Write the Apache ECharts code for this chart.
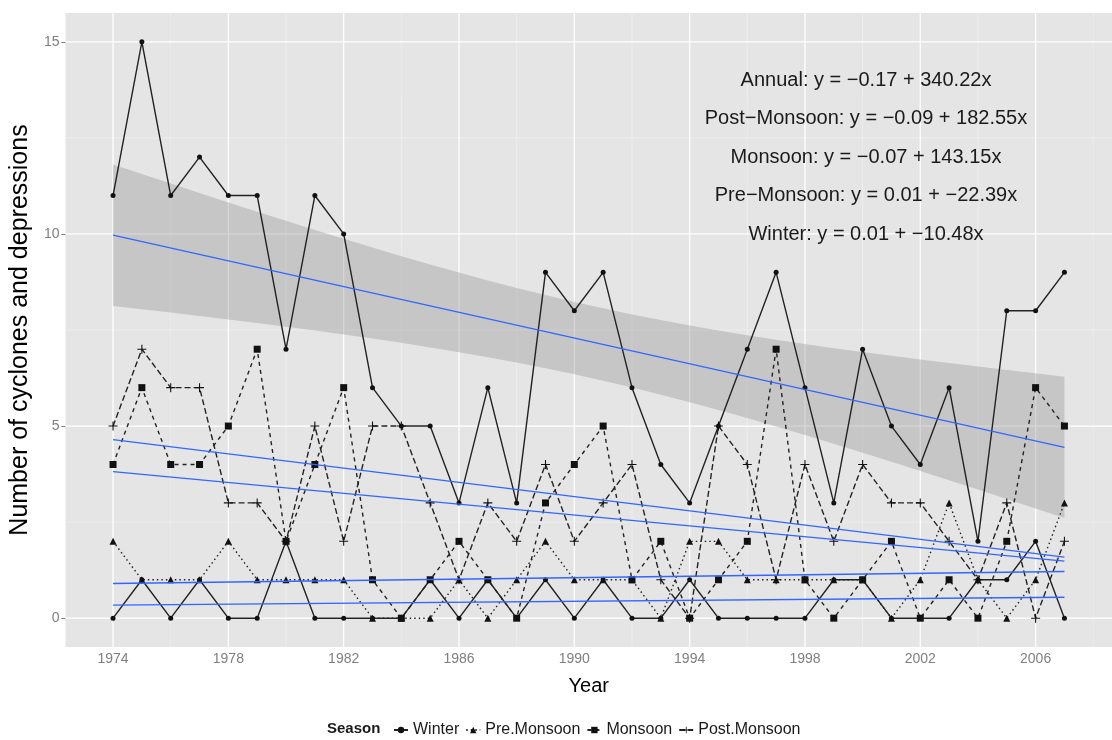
<!DOCTYPE html>
<html>
<head>
<meta charset="utf-8">
<title>Cyclones and depressions</title>
<script src="https://cdn.jsdelivr.net/npm/echarts@6/dist/echarts.min.js"></script>
<style>
    html, body { margin: 0; padding: 0; background: #fff; }
    #chart { width: 1112px; height: 740px; }
</style>
</head>
<body>
<div id="chart"></div>
<script>
var years = [1974, 1975, 1976, 1977, 1978, 1979, 1980, 1981, 1982, 1983, 1984, 1985, 1986, 1987, 1988, 1989, 1990,
    1991, 1992, 1993, 1994, 1995, 1996, 1997, 1998, 1999, 2000, 2001, 2002, 2003, 2004, 2005, 2006, 2007]
var annual = [11, 15, 11, 12, 11, 11, 7, 11, 10, 6, 5, 5, 3, 6, 3, 9, 8, 9, 6, 4, 3, 5, 7, 9, 6, 3, 7, 5, 4, 6, 2, 8, 8, 9]
var winter = [0, 1, 0, 1, 0, 0, 2, 0, 0, 0, 0, 1, 0, 1, 0, 1, 0, 1, 0, 0, 1, 0, 0, 0, 0, 1, 1, 0, 0, 0, 1, 1, 2, 0]
var preMonsoon = [2, 1, 1, 1, 2, 1, 1, 1, 1, 0, 0, 0, 1, 0, 1, 2, 1, 1, 1, 0, 2, 2, 1, 1, 1, 1, 1, 0, 1, 3, 1, 0, 1, 3]
var monsoon = [4, 6, 4, 4, 5, 7, 2, 4, 6, 1, 0, 1, 2, 1, 0, 3, 4, 5, 1, 2, 0, 1, 2, 7, 1, 0, 1, 2, 0, 1, 0, 2, 6, 5]
var postMonsoon = [5, 7, 6, 6, 3, 3, 2, 5, 2, 5, 5, 3, 1, 3, 2, 4, 2, 3, 4, 1, 0, 5, 4, 1, 4, 2, 4, 3, 3, 2, 1, 3, 0, 2]

var yTicks = [0, 5, 10, 15]
var yMinor = [2.5, 7.5, 12.5]
var xTicks = [1974, 1978, 1982, 1986, 1990, 1994, 1998, 2002, 2006]
var xMinor = [1976, 1980, 1984, 1988, 1992, 1996, 2000, 2004, 2008]

var equations = [
    'Annual: y = \u22120.17 + 340.22x',
    'Post\u2212Monsoon: y = \u22120.09 + 182.55x',
    'Monsoon: y = \u22120.07 + 143.15x',
    'Pre\u2212Monsoon: y = 0.01 + \u221222.39x',
    'Winter: y = 0.01 + \u221210.48x'
]

;(function () {
    var FONT = '"Liberation Sans", Arial, sans-serif'
    var chart = echarts.init(document.getElementById('chart'))

    function pairs(ys) { // [year, value]
        return years.map(function (yr, i) { return [yr, ys[i]] })
    }

    function linFit(ys) { // least squares, like geom_smooth(method = lm)
        var n = ys.length, xbar = 0, ybar = 0, sxx = 0, sxy = 0, sse = 0
        years.forEach(function (x, i) { xbar += x / n; ybar += ys[i] / n })
        years.forEach(function (x, i) {
            sxx += (x - xbar) * (x - xbar)
            sxy += (x - xbar) * (ys[i] - ybar)
        })
        var b = sxy / sxx, a = ybar - b * xbar
        years.forEach(function (x, i) { var r = ys[i] - a - b * x; sse += r * r })
        return { a: a, b: b, s: Math.sqrt(sse / (n - 2)), n: n, xbar: xbar, sxx: sxx }
    }

    function fitLine(ys) {
        var f = linFit(ys), x0 = years[0], x1 = years[years.length - 1]
        return {
            type: 'line',
            data: [[x0, f.a + f.b * x0], [x1, f.a + f.b * x1]],
            showSymbol: false,
            silent: true,
            z: 5,
            lineStyle: { color: '#3366ff', width: 1.3 }
        }
    }

    // 95% confidence band for the annual trend
    var fa = linFit(annual), tq = 2.037
    var bandData = years.map(function (x) {
        var yh = fa.a + fa.b * x
        var se = fa.s * Math.sqrt(1 / fa.n + (x - fa.xbar) * (x - fa.xbar) / fa.sxx)
        return [x, yh - tq * se, yh + tq * se]
    })

    function gridSeries(values, horizontal, major) {
        return {
            type: 'custom',
            silent: true,
            z: 1,
            data: values.map(function (v) { return horizontal ? [1990, v] : [v, 7] }),
            renderItem: function (params, api) {
                var cs = params.coordSys
                var p = api.coord([api.value(0), api.value(1)])
                var shape = horizontal ?
                    { x1: cs.x, y1: p[1], x2: cs.x + cs.width, y2: p[1] } :
                    { x1: p[0], y1: cs.y, x2: p[0], y2: cs.y + cs.height }
                return {
                    type: 'line',
                    shape: shape,
                    style: { stroke: major ? '#ffffff' : '#f2f2f2', lineWidth: major ? 1.3 : 0.6 }
                }
            }
        }
    }

    function seasonSeries(name, ys, dash, symbol, size) {
        return {
            name: name,
            type: 'line',
            data: pairs(ys),
            symbol: symbol,
            symbolSize: size,
            z: 3,
            itemStyle: { color: '#111' },
            lineStyle: { color: '#222', width: 1.4, type: dash }
        }
    }

    var plusPath = 'path://M4.4,0H5.6V4.4H10V5.6H5.6V10H4.4V5.6H0V4.4H4.4Z'

    var option = {
        animation: false,
        grid: {
            left: 63, right: 0, top: 13, bottom: 93,
            show: true, backgroundColor: '#e5e5e5', borderWidth: 0
        },
        legend: {
            data: ['Winter', 'Pre.Monsoon', 'Monsoon', 'Post.Monsoon'],
            left: 388, top: 717,
            itemWidth: 14, itemHeight: 8, itemGap: 6,
            textStyle: { fontFamily: FONT, fontSize: 16, color: '#1a1a1a' }
        },
        xAxis: {
            type: 'value',
            min: 1972.35, max: 2008.65,
            name: 'Year', nameLocation: 'middle', nameGap: 29,
            nameTextStyle: { fontFamily: FONT, fontSize: 20, color: '#000' },
            axisLine: { show: false },
            axisTick: { show: true, length: 4, customValues: xTicks, lineStyle: { color: '#7f7f7f' } },
            axisLabel: {
                customValues: xTicks, margin: 5, fontFamily: FONT, fontSize: 14, color: '#7f7f7f',
                formatter: function (v) { return String(v) }
            },
            splitLine: { show: false }
        },
        yAxis: {
            type: 'value',
            min: -0.75, max: 15.75,
            name: 'Number of cyclones and depressions', nameLocation: 'middle', nameGap: 28,
            nameTextStyle: { fontFamily: FONT, fontSize: 25, color: '#000' },
            axisLine: { show: false },
            axisTick: { show: true, length: 4, customValues: yTicks, lineStyle: { color: '#7f7f7f' } },
            axisLabel: { customValues: yTicks, margin: 6, fontFamily: FONT, fontSize: 14, color: '#7f7f7f' },
            splitLine: { show: false }
        },
        graphic: [
            {
                type: 'text', left: 327, top: 721,
                style: { text: 'Season', font: 'bold 15px ' + FONT, fill: '#1a1a1a' }
            }
        ].concat(equations.map(function (t, i) {
            return {
                type: 'text', x: 866, y: 80 + i * 38.6, z: 10,
                style: { text: t, font: '20px ' + FONT, fill: '#1a1a1a', align: 'center', verticalAlign: 'middle' }
            }
        })),
        series: [
            gridSeries(yMinor, true, false),
            gridSeries(xMinor, false, false),
            gridSeries(yTicks, true, true),
            gridSeries(xTicks, false, true),
            {
                type: 'custom',
                silent: true,
                z: 2,
                data: bandData,
                encode: { x: 0, y: [1, 2] },
                renderItem: function (params, api) {
                    if (params.dataIndex !== 0) return null
                    var upper = [], lower = []
                    bandData.forEach(function (d) {
                        upper.push(api.coord([d[0], d[2]]))
                        lower.unshift(api.coord([d[0], d[1]]))
                    })
                    return {
                        type: 'polygon',
                        shape: { points: upper.concat(lower) },
                        style: { fill: 'rgba(153,153,153,0.4)' }
                    }
                }
            },
            seasonSeries('Annual', annual, 'solid', 'circle', 5),
            seasonSeries('Winter', winter, 'solid', 'circle', 5),
            seasonSeries('Pre.Monsoon', preMonsoon, [1.5, 3], 'triangle', 7),
            seasonSeries('Monsoon', monsoon, [4, 4], 'rect', 7),
            seasonSeries('Post.Monsoon', postMonsoon, [6, 3], plusPath, 9),
            fitLine(annual),
            fitLine(postMonsoon),
            fitLine(monsoon),
            fitLine(preMonsoon),
            fitLine(winter)
        ]
    }

    chart.setOption(option)
}())
</script>
</body>
</html>
